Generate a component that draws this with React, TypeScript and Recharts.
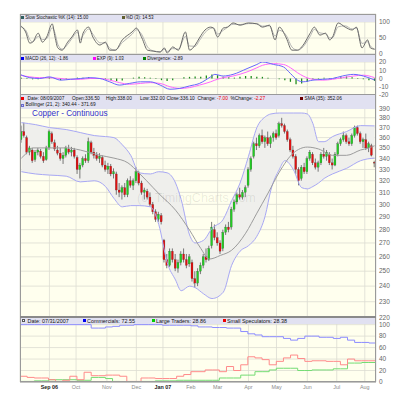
import {
  ComposedChart,
  LineChart,
  Line,
  Bar,
  Area,
  XAxis,
  YAxis,
  CartesianGrid,
} from 'recharts'

// ── Layout ───────────────────────────────────────────────
const FONT = '"Liberation Sans", Arial, Helvetica, sans-serif'
const BG = '#ffffee'
const GRID = '#dcdcd2'
const FRAME = '#9a9a9a'
const HEAD_BG = '#e1e1f1'
const AXIS_TEXT = '#666666'

const CHART_W = 396
const PLOT_L = 20
const PLOT_W = 356
const AXIS_W = 20

const STOCH_TOP = 14
const STOCH_H = 40
const MACD_TOP = 54
const MACD_H = 41
const PRICE_TOP = 95
const PRICE_H = 223
const COT_TOP = 318
const COT_H = 64

// ── Data ─────────────────────────────────────────────────
// x axis = trading days, 0 = start of Aug 2006, 254 = 08/09/2007
const DAY_DOMAIN: [number, number] = [0, 254]
const monthDays = [21, 40, 62, 83, 102, 122, 141, 163, 183, 205, 226, 246]
const monthLabels = ['Sep 06', 'Oct', 'Nov', 'Dec', 'Jan 07', 'Feb', 'Mar', 'Apr', 'May', 'Jun', 'Jul', 'Aug']
const boldMonths = ['Sep 06', 'Jan 07']

// copper candles, one per two trading days: [open, high, low, close]
const copperOHLC: [number, number, number, number][] = [
  [358, 372, 355, 366], [366, 375, 360, 362], [360, 362, 344, 346], [346, 352, 343, 350],
  [348, 350, 336, 338], [339, 348, 337, 346], [346, 350, 343, 348], [347, 349, 340, 342],
  [342, 346, 336, 338], [339, 352, 338, 350], [350, 368, 348, 366], [364, 366, 354, 356],
  [355, 358, 347, 349], [348, 352, 343, 345], [345, 350, 338, 340], [340, 346, 335, 343],
  [343, 352, 341, 350], [349, 353, 344, 346], [346, 351, 342, 348], [348, 350, 340, 342],
  [341, 343, 326, 330], [330, 336, 322, 334], [334, 342, 332, 340], [340, 344, 336, 338],
  [338, 360, 336, 356], [355, 357, 344, 346], [346, 350, 340, 343], [343, 346, 338, 340],
  [340, 345, 336, 342], [341, 343, 332, 334], [334, 338, 328, 330], [330, 336, 326, 333],
  [333, 335, 324, 326], [326, 331, 322, 328], [326, 328, 308, 312], [312, 318, 306, 310],
  [310, 316, 304, 314], [314, 318, 306, 308], [308, 322, 306, 320], [320, 324, 314, 316],
  [316, 322, 312, 320], [320, 332, 318, 328], [327, 329, 316, 318], [318, 320, 308, 310],
  [310, 314, 304, 312], [311, 313, 304, 306], [306, 310, 298, 300], [300, 302, 292, 294],
  [294, 296, 286, 288], [288, 294, 286, 292], [291, 293, 284, 286], [272, 273, 256, 258],
  [258, 262, 252, 254], [254, 266, 253, 264], [264, 266, 256, 258], [258, 262, 250, 252],
  [252, 258, 249, 256], [256, 264, 254, 262], [262, 266, 256, 258], [258, 262, 252, 254],
  [255, 262, 253, 260], [256, 258, 243, 245], [245, 250, 239, 242], [242, 252, 240, 250],
  [250, 256, 248, 254], [254, 262, 252, 260], [260, 266, 256, 258], [258, 268, 257, 266],
  [268, 286, 266, 282], [280, 284, 272, 274], [274, 278, 268, 270], [270, 272, 262, 264],
  [266, 280, 264, 278], [278, 284, 276, 282], [282, 286, 278, 280], [282, 298, 280, 296],
  [296, 304, 294, 302], [302, 310, 300, 308], [308, 314, 304, 306], [306, 312, 304, 310],
  [310, 316, 306, 314], [316, 332, 314, 330], [330, 342, 328, 340], [342, 356, 340, 354],
  [354, 360, 348, 352], [352, 364, 350, 362], [362, 368, 354, 356], [356, 362, 350, 360],
  [360, 366, 352, 354], [354, 362, 350, 360], [360, 366, 356, 364], [364, 368, 358, 360],
  [362, 376, 360, 374], [374, 380, 370, 372], [372, 374, 364, 366], [366, 368, 356, 358],
  [358, 360, 346, 348], [348, 352, 340, 342], [342, 344, 326, 330], [330, 332, 316, 320],
  [322, 334, 320, 332], [332, 336, 326, 328], [328, 342, 326, 340], [340, 348, 338, 346],
  [344, 346, 334, 336], [336, 340, 330, 332], [332, 338, 328, 336], [336, 346, 334, 344],
  [344, 350, 340, 342], [342, 348, 338, 346], [344, 346, 334, 336], [336, 340, 330, 334],
  [334, 346, 333, 344], [344, 356, 342, 354], [354, 360, 352, 358], [358, 366, 356, 362],
  [362, 364, 354, 356], [356, 360, 352, 354], [354, 364, 352, 362], [362, 372, 360, 370],
  [370, 372, 362, 364], [364, 366, 354, 356], [356, 360, 350, 358], [358, 364, 348, 350],
  [350, 356, 346, 354], [352, 354, 342, 343.1], [336.5, 338, 332, 336.1],
]

// Bollinger (21, 2)
const bandDays = [1, 11, 21, 33, 43, 53, 61, 67, 73, 79, 85, 93, 99, 105, 111, 115, 121, 125, 131, 137,
  145, 151, 157, 163, 169, 175, 179, 185, 189, 195, 201, 205, 209, 213, 217, 223, 233, 243, 253]
const bbUpper = [375, 373, 370, 368, 365, 362, 361, 360, 353, 343, 327, 326, 328, 327, 318, 304, 276, 270, 272, 281,
  288, 303, 318, 342, 370, 381, 384, 385, 385, 385, 385, 384, 374, 356, 356, 361, 366, 372, 371.69]
const bbLower = [328, 326, 325, 324, 319, 320, 315, 305, 298, 299, 299, 298, 284, 256, 244, 237, 240, 239, 235, 232,
  236, 254, 264, 268, 275, 291, 312, 330, 338, 330, 314, 313, 315, 318, 322, 326, 331, 338, 340.44]

// SMA (35)
const smaDays = [1, 5, 9, 33, 43, 57, 67, 77, 85, 95, 99, 111, 121, 129, 135, 143, 151, 161, 169, 177,
  185, 195, 205, 213, 223, 233, 243, 249, 253]
const sma35 = [340.4, 345.5, 350, 350, 348, 343, 340.4, 336, 326.7, 314, 309, 295.3, 279.6, 266, 258.4, 261, 264.7, 277.3, 292.9, 309.4,
  327.6, 345.1, 350.8, 349, 343, 343, 348, 350, 352.06]

// Slow stochastic
const stochDays = [0, 4, 7, 9, 13, 16, 19, 23, 25, 27, 30, 34, 37, 41, 43, 45, 49, 52, 57, 61,
  64, 68, 73, 80, 83, 87, 91, 95, 100, 103, 105, 109, 113, 118, 121, 125, 128, 132, 136, 138,
  141, 145, 148, 152, 157, 163, 169, 173, 178, 182, 185, 190, 194, 198, 201, 203, 207, 210, 214, 218,
  221, 223, 227, 232, 237, 240, 244, 248, 250, 253]
const stochK = [90, 69, 34, 37, 65, 37, 53, 94, 53, 19, 12, 37, 53, 75, 34, 65, 84, 53, 28, 37,
  12, 12, 44, 69, 81, 50, 12, 9, 6, 19, 3, 22, 12, 69, 12, 28, 50, 75, 84, 81,
  53, 81, 84, 97, 90, 97, 94, 84, 90, 44, 84, 50, 12, 12, 22, 34, 65, 84, 59, 65,
  44, 53, 97, 84, 75, 84, 19, 44, 19, 15]
const stochD = [85, 75, 45, 38, 55, 45, 48, 82, 65, 30, 15, 30, 48, 68, 45, 58, 78, 62, 35, 34,
  18, 12, 36, 62, 76, 60, 22, 10, 7, 15, 8, 17, 15, 55, 25, 24, 42, 67, 80, 82,
  62, 74, 83, 93, 92, 95, 95, 87, 88, 56, 74, 58, 22, 12, 18, 28, 55, 77, 66, 63,
  50, 51, 85, 88, 78, 81, 33, 38, 25, 14.53]

// MACD (26, 12) and EXP (9)
const macdDays = [0, 7, 14, 21, 29, 36, 43, 50, 57, 64, 71, 78, 86, 93, 100, 107, 114, 121, 128, 136,
  139, 145, 152, 162, 169, 173, 181, 188, 193, 198, 202, 209, 216, 223, 230, 238, 245, 253]
const macdLine = [5, 1, 0, 2, -2, -1, 0, 1, 0, -4, -8, -6, -4, -4, -8, -13, -12, -9, -6, 2,
  5, 3, 5, 12, 17, 20, 17, 14, 6, -2, -4, -2, -1, 0, 3, 5, 3, -1.86]
const macdSignal = [4, 2, 1, 1, 0, -1, -1, 0, 0, -2, -5, -7, -6, -5, -6, -10, -12, -11, -8, -4,
  -2, 1, 3, 8, 13, 16, 18, 17, 13, 7, 3, -1, -2, -1, 1, 3, 4, 1.03]
// divergence histogram, one bar per four trading days from day 1
const divergence = [1, 0.5, -1, -1, 0, 1.5, 0.5, -2, -1, 0, 1, 1, 1.5, 0.5, 0, -1, -2, -3, -2.5, 0,
  1, 2, 1.5, 1, -0.5, -2, -3, -2, 0, 1.5, 2, 2.5, 2, 3.5, 5, 4, 2, 1.5, 1, 2,
  3, 3, 2, 2, 1, 0, -1, -2, -4, -7, -6, -4, -1, 0.5, 1, 0.5, 1, 2, 2.5, 1.5,
  0.5, -1, -2, -2.89]

// COT, weekly
const commercials = [100, 100, 100, 100, 100, 100, 100, 100, 100, 100, 94, 94, 96, 97, 99, 99, 100, 100, 100, 100,
  99, 99, 99, 99, 98, 96, 96, 95, 95, 94, 94, 88, 84, 82, 79, 79, 79, 76, 73, 76,
  80, 80, 78, 78, 76, 78, 73, 69, 69, 68, 72.55]
const largeTraders = [1, 1, 2, 2, 4, 4, 4, 4, 3, 3, 8, 8, 6, 1, 0, 0, 0, 1, 1, 2,
  2, 2, 3, 3, 3, 3, 3, 3, 7, 7, 7, 12, 12, 18, 18, 21, 24, 24, 24, 20,
  20, 21, 21, 21, 23, 23, 33, 33, 34, 34, 28.86]
const smallSpecs = [10, 8, 7, 7, 4, 1, 3, 10, 4, 17, 11, 11, 12, 12, 10, 1, 1, 7, 7, 6,
  6, 6, 10, 13, 18, 18, 21, 21, 18, 27, 20, 30, 44, 42, 39, 30, 36, 42, 47, 41,
  36, 37, 37, 36, 36, 30, 40, 37, 37, 37, 28.38]

const priceTicks = [220, 230, 240, 250, 260, 270, 280, 290, 300, 310, 320, 330, 340, 350, 360, 370, 380, 390]

// ── Rows for recharts ────────────────────────────────────
const candleRows = copperOHLC.map((ohlc, i) => ({ day: 1 + 2 * i, range: [ohlc[2], ohlc[1]], ohlc }))
const bandRows = bandDays.map((day, i) => ({
  day,
  upper: bbUpper[i],
  lower: bbLower[i],
  band: [bbLower[i], bbUpper[i]],
}))
const smaRows = smaDays.map((day, i) => ({ day, sma: sma35[i] }))
const stochRows = stochDays.map((day, i) => ({ day, k: stochK[i], d: stochD[i] }))
const macdRows = macdDays.map((day, i) => ({ day, macd: macdLine[i], exp: macdSignal[i] }))
const divRows = divergence.map((v, i) => ({ day: 1 + 4 * i, v }))
const cotRows = commercials.map((c, i) => ({
  day: (i * DAY_DOMAIN[1]) / (commercials.length - 1),
  com: c,
  large: largeTraders[i],
  small: smallSpecs[i],
}))

const yAxisProps = {
  orientation: 'right' as const,
  width: AXIS_W,
  tickLine: false,
  axisLine: false,
  tickSize: 1,
  tickMargin: 2,
  interval: 0 as const,
  allowDataOverflow: true,
  tick: { fontSize: 6.5, fill: AXIS_TEXT, fontFamily: FONT },
}

const xAxisProps = {
  type: 'number' as const,
  dataKey: 'day',
  domain: DAY_DOMAIN,
  ticks: monthDays,
  allowDataOverflow: true,
}

const margin = { top: 0, right: 0, bottom: 0, left: PLOT_L }

// ── Shapes ───────────────────────────────────────────────
function Candle(props: any) {
  const { x, y, width, height, payload } = props
  if (!payload || x == null || y == null) return <g />
  const [o, h, l, c] = payload.ohlc as number[]
  const yHigh = Math.min(y, y + height)
  const yLow = Math.max(y, y + height)
  const span = Math.log(h / l)
  const yOf = (v: number) => (span > 0 ? yHigh + ((yLow - yHigh) * Math.log(h / v)) / span : yHigh)
  const top = yOf(Math.max(o, c))
  const bot = yOf(Math.min(o, c))
  const cx = x + width / 2
  const up = c >= o
  return (
    <g>
      <line x1={cx} x2={cx} y1={yHigh} y2={yLow} stroke="#444" strokeWidth={0.7} />
      <rect
        x={x}
        y={top}
        width={width}
        height={Math.max(0.8, bot - top)}
        fill={up ? '#22cc22' : '#e01010'}
        stroke="#333"
        strokeWidth={0.2}
      />
    </g>
  )
}

function MonthTick(props: any) {
  const { x, y, payload } = props
  const label = monthLabels[monthDays.indexOf(payload.value)] ?? ''
  const bold = boldMonths.includes(label)
  return (
    <text
      x={x}
      y={y}
      dy="0.71em"
      textAnchor="middle"
      fontSize={5.4}
      fontFamily={FONT}
      fontWeight={bold ? 700 : 400}
      fill={bold ? '#222' : '#8a8a8a'}
    >
      {label}
    </text>
  )
}

// ── Header helpers ───────────────────────────────────────
function Sq({ x, y, color, border }: { x: number; y: number; color: string; border?: string }) {
  return (
    <div
      style={{
        position: 'absolute',
        left: x,
        top: y - 1.6,
        width: 3.2,
        height: 3.2,
        background: color,
        boxSizing: 'border-box',
        border: border ? `0.6px solid ${border}` : undefined,
      }}
    />
  )
}

function Txt({
  x,
  y,
  size,
  color = '#111',
  weight,
  children,
}: {
  x: number
  y: number
  size: number
  color?: string
  weight?: number
  children: React.ReactNode
}) {
  return (
    <div
      style={{
        position: 'absolute',
        left: x,
        top: y - size,
        height: size * 2,
        lineHeight: `${size * 2}px`,
        fontSize: size,
        color,
        fontWeight: weight,
        whiteSpace: 'pre',
      }}
    >
      {children}
    </div>
  )
}

function Strip({ top, height }: { top: number; height: number }) {
  return (
    <div style={{ position: 'absolute', left: PLOT_L, top, width: PLOT_W, height, background: HEAD_BG }} />
  )
}

function HLine({ y, h = 1, color = FRAME }: { y: number; h?: number; color?: string }) {
  return <div style={{ position: 'absolute', left: PLOT_L, top: y, width: PLOT_W, height: h, background: color }} />
}

const RED = '#ee0000'

// ── App ──────────────────────────────────────────────────
export default function App() {
  return (
    <div
      style={{
        position: 'absolute',
        left: 0,
        top: 0,
        width: 396,
        height: 400,
        background: '#fff',
        fontFamily: FONT,
        overflow: 'hidden',
      }}
    >
      <style>{'svg.recharts-surface{overflow:visible}'}</style>

      {/* Slow stochastic */}
      <div style={{ position: 'absolute', left: 0, top: STOCH_TOP }}>
        <LineChart width={CHART_W} height={STOCH_H} data={stochRows} margin={margin}>
          <CartesianGrid fill={BG} stroke={GRID} strokeWidth={0.8} />
          <XAxis {...xAxisProps} hide />
          <YAxis {...yAxisProps} domain={[0, 125]} ticks={[0, 50, 100]} />
          <Line dataKey="d" type="monotone" stroke="#b4b4b4" strokeWidth={1} dot={false} isAnimationActive={false} />
          <Line dataKey="k" type="monotone" stroke="#6a6a6a" strokeWidth={1} dot={false} isAnimationActive={false} />
        </LineChart>
      </div>

      {/* MACD */}
      <div style={{ position: 'absolute', left: 0, top: MACD_TOP }}>
        <ComposedChart width={CHART_W} height={MACD_H} data={divRows} margin={margin}>
          <CartesianGrid fill={BG} stroke={GRID} strokeWidth={0.8} />
          <XAxis {...xAxisProps} hide />
          <YAxis {...yAxisProps} domain={[-20, 29.7]} ticks={[-20, -10, 0, 10, 20]} />
          <Bar dataKey="v" fill="#1a8a1a" barSize={3} isAnimationActive={false} />
          <Line data={macdRows} dataKey="exp" type="monotone" stroke="#ff66ff" strokeWidth={1} dot={false} isAnimationActive={false} />
          <Line data={macdRows} dataKey="macd" type="monotone" stroke="#6666ff" strokeWidth={1} dot={false} isAnimationActive={false} />
        </ComposedChart>
      </div>

      {/* Price */}
      <div style={{ position: 'absolute', left: 0, top: PRICE_TOP }}>
        <ComposedChart width={CHART_W} height={PRICE_H} data={candleRows} margin={margin}>
          <CartesianGrid fill={BG} stroke={GRID} strokeWidth={0.8} />
          <XAxis {...xAxisProps} hide />
          <YAxis {...yAxisProps} scale="log" domain={[220, 404.4]} ticks={priceTicks} />
          <Area data={bandRows} dataKey="band" type="monotone" fill="#efefec" fillOpacity={1} stroke="none" isAnimationActive={false} />
          <Line data={bandRows} dataKey="upper" type="monotone" stroke="#a8a8f4" strokeWidth={1} dot={false} isAnimationActive={false} />
          <Line data={bandRows} dataKey="lower" type="monotone" stroke="#a8a8f4" strokeWidth={1} dot={false} isAnimationActive={false} />
          <Line data={smaRows} dataKey="sma" type="monotone" stroke="#9c9c9c" strokeWidth={1} dot={false} isAnimationActive={false} />
          <Bar dataKey="range" barSize={2} shape={Candle} isAnimationActive={false} />
        </ComposedChart>
      </div>

      {/* COT */}
      <div style={{ position: 'absolute', left: 0, top: COT_TOP }}>
        <LineChart width={CHART_W} height={COT_H + 14} data={cotRows} margin={margin}>
          <CartesianGrid fill={BG} stroke={GRID} strokeWidth={0.8} />
          <XAxis
            {...xAxisProps}
            height={14}
            interval={0}
            tickLine={false}
            tickSize={0}
            tickMargin={3}
            axisLine={{ stroke: FRAME }}
            tick={<MonthTick />}
          />
          <YAxis {...yAxisProps} domain={[0, 111.6]} ticks={[0, 20, 40, 60, 80, 100]} />
          <Line dataKey="com" type="stepAfter" stroke="#8c8cff" strokeWidth={1} dot={false} isAnimationActive={false} />
          <Line dataKey="large" type="stepAfter" stroke="#74dc74" strokeWidth={1} dot={false} isAnimationActive={false} />
          <Line dataKey="small" type="stepAfter" stroke="#ff8a8a" strokeWidth={1} dot={false} isAnimationActive={false} />
        </LineChart>
      </div>

      {/* watermark + title */}
      <Txt x={137} y={198.5} size={12.5} color="rgba(0,0,0,0.09)">(c) TimingCharts.com</Txt>
      <Txt x={32} y={113.8} size={8.2} color="#3333cc">Copper - Continuous</Txt>

      {/* header strips */}
      <Strip top={14} height={7.5} />
      <Sq x={21} y={17.7} color="#2f5f5f" />
      <Txt x={25.3} y={17.7} size={4.5}>Slow Stochastic %K (14): 15.00</Txt>
      <Sq x={121.5} y={17.7} color="#5f5f2f" />
      <Txt x={125.8} y={17.7} size={4.5}>%D (3): 14.53</Txt>

      <Strip top={54.5} height={7.3} />
      <Sq x={21} y={58.2} color="#0000ee" />
      <Txt x={25.3} y={58.2} size={4.5}>MACD (26, 12): -1.86</Txt>
      <Sq x={92.5} y={58.2} color="#ff00ff" />
      <Txt x={96.8} y={58.2} size={4.5}>EXP (9): 1.03</Txt>
      <Sq x={143} y={58.2} color="#008000" />
      <Txt x={147.3} y={58.2} size={4.5}>Divergence: -2.89</Txt>

      <Strip top={95} height={13.5} />
      <Sq x={21} y={98.6} color="#ee0000" />
      <Txt x={27.5} y={98.6} size={4.8}>Date: 08/09/2007</Txt>
      <Txt x={72} y={98.6} size={4.8}>Open:336.50</Txt>
      <Txt x={106} y={98.6} size={4.8}>High:338.00</Txt>
      <Txt x={140} y={98.6} size={4.8}>Low:332.00</Txt>
      <Txt x={166.5} y={98.6} size={4.8}>Close:336.10</Txt>
      <Txt x={197.5} y={98.6} size={4.8}>
        Change: <span style={{ color: RED }}>-7.00</span>
      </Txt>
      <Txt x={230.5} y={98.6} size={4.8}>
        %Change: <span style={{ color: RED }}>-2.27</span>
      </Txt>
      <Sq x={300} y={98.6} color="#6b0000" />
      <Txt x={304.5} y={98.6} size={4.8}>SMA (35): 352.06</Txt>
      <Sq x={21} y={105.2} color="#c4c4f4" border="#6a6acc" />
      <Txt x={25.5} y={105.2} size={4.8}>Bollinger (21, 2): 340.44 - 371.69</Txt>

      <Strip top={317.5} height={6.8} />
      <Sq x={21.5} y={320.9} color="#ffffff" border="#555" />
      <Txt x={27.5} y={320.9} size={5.4}>Date: 07/31/2007</Txt>
      <Sq x={82.5} y={320.9} color="#0000ee" />
      <Txt x={87} y={320.9} size={5.4}>Commercials: 72.55</Txt>
      <Sq x={151.5} y={320.9} color="#00cc00" />
      <Txt x={156} y={320.9} size={5.4}>Large Traders: 28.86</Txt>
      <Sq x={222.5} y={320.9} color="#ee0000" />
      <Txt x={227} y={320.9} size={5.4}>Small Speculators: 28.38</Txt>

      {/* frame + panel separators */}
      <div
        style={{
          position: 'absolute',
          left: PLOT_L,
          top: STOCH_TOP,
          width: PLOT_W,
          height: COT_TOP + COT_H - STOCH_TOP,
          border: `1px solid ${FRAME}`,
          boxSizing: 'border-box',
        }}
      />
      <HLine y={53.5} />
      <HLine y={94.3} />
      <HLine y={316.3} h={1.6} color="#8a8a8a" />
    </div>
  )
}
